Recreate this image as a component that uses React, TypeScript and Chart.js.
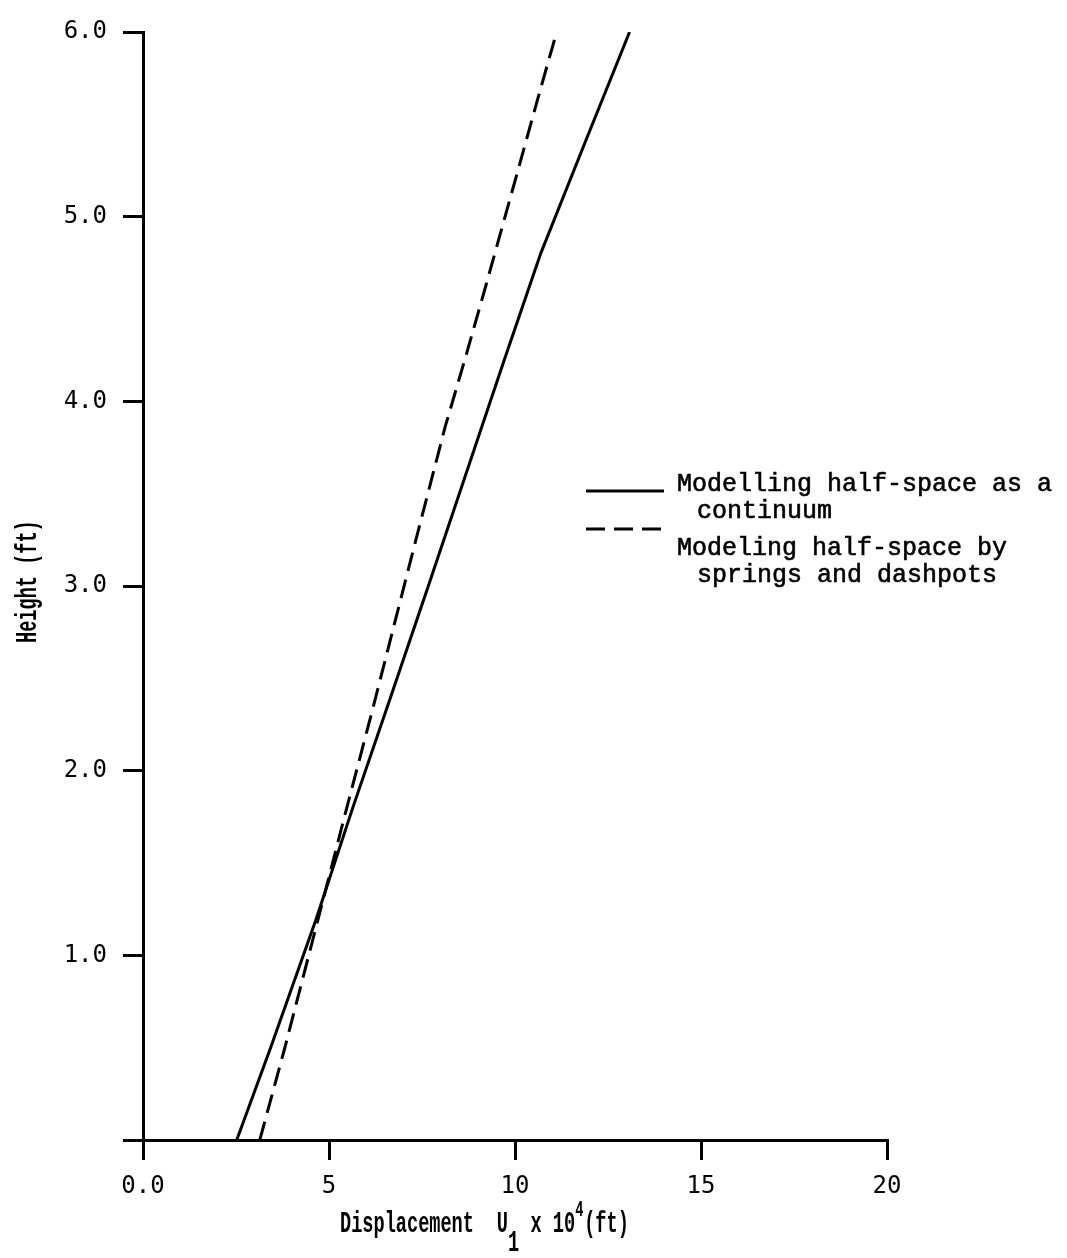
import React, { useEffect, useRef } from 'react';
import { Chart, registerables } from 'chart.js';

Chart.register(...registerables);

// Displacement U1 x 10^4 (ft) vs Height (ft)
const continuumX = [2.52, 3.43, 4.66, 5.64, 6.66, 7.67, 8.67, 9.67, 10.69, 11.88, 13.08];
const continuumY = [0, 0.5, 1.2, 1.8, 2.4, 3.0, 3.6, 4.2, 4.8, 5.4, 6.0];

const springsX = [3.14, 3.8, 4.7, 5.44, 6.17, 7.31, 8.12, 8.7, 9.18, 9.65, 10.12, 10.6, 11.12];
const springsY = [0, 0.49, 1.19, 1.77, 2.33, 3.23, 3.86, 4.26, 4.6, 4.94, 5.28, 5.63, 6.0];

const xTickValues = [0, 5, 10, 15, 20];
const xTickLabels = ['0.0', '5', '10', '15', '20'];
const yTickValues = [0, 1, 2, 3, 4, 5, 6];
const yTickLabels = ['', '1.0', '2.0', '3.0', '4.0', '5.0', '6.0'];

const legendContinuum = ['Modelling half-space as a', 'continuum'];
const legendSprings = ['Modeling half-space by', 'springs and dashpots'];

const xTitleMain = 'Displacement';
const xTitleSymbol = 'U';
const xTitleSub = '1';
const xTitleTimes = 'x 10';
const xTitleSup = '4';
const xTitleUnit = '(ft)';
const yTitle = 'Height (ft)';

const W = 1067;
const H = 1258;

const annotationsPlugin = {
  id: 'annotations',
  afterDraw(chart: any) {
    const ctx = chart.ctx as CanvasRenderingContext2D;
    ctx.save();
    ctx.fillStyle = '#000';
    ctx.strokeStyle = '#000';

    const sx = 0.62;
    const titleFont = 'bold 30px "Liberation Mono"';
    const drawScaled = (text: string, x: number, y: number, font: string) => {
      ctx.save();
      ctx.translate(x, y);
      ctx.scale(sx, 1);
      ctx.font = font;
      ctx.textAlign = 'left';
      ctx.textBaseline = 'alphabetic';
      ctx.fillText(text, 0, 0);
      ctx.restore();
    };

    // x-axis title: Displacement U1 x 10^4 (ft)
    const x0 = 340;
    const adv = 11.2;
    drawScaled(xTitleMain, x0, 1232, titleFont);
    drawScaled(xTitleSymbol, x0 + 14 * adv, 1232, titleFont);
    drawScaled(xTitleSub, x0 + 15 * adv, 1251, titleFont);
    drawScaled(xTitleTimes, x0 + 17 * adv, 1232, titleFont);
    drawScaled(xTitleSup, x0 + 21 * adv, 1216, 'bold 22px "Liberation Mono"');
    drawScaled(xTitleUnit, x0 + 21 * adv + 9, 1232, titleFont);

    // y-axis title
    ctx.save();
    ctx.translate(36, 643);
    ctx.rotate(-Math.PI / 2);
    ctx.scale(sx, 1);
    ctx.font = titleFont;
    ctx.textAlign = 'left';
    ctx.textBaseline = 'alphabetic';
    ctx.fillText(yTitle, 0, 0);
    ctx.restore();

    // legend
    ctx.lineWidth = 3;
    ctx.beginPath();
    ctx.moveTo(586, 491);
    ctx.lineTo(664, 491);
    ctx.stroke();
    ctx.setLineDash([19, 9]);
    ctx.beginPath();
    ctx.moveTo(586, 529);
    ctx.lineTo(664, 529);
    ctx.stroke();
    ctx.setLineDash([]);

    ctx.font = '25px "Liberation Mono"';
    ctx.textAlign = 'left';
    ctx.textBaseline = 'alphabetic';
    ctx.lineWidth = 0.6;
    const txt = (t: string, x: number, y: number) => {
      ctx.fillText(t, x, y);
      ctx.strokeText(t, x, y);
    };
    txt(legendContinuum[0], 677, 491);
    txt(legendContinuum[1], 697, 518);
    txt(legendSprings[0], 677, 555);
    txt(legendSprings[1], 697, 582);
    ctx.restore();
  },
};

export default function App() {
  const canvasRef = useRef<HTMLCanvasElement | null>(null);

  useEffect(() => {
    const canvas = canvasRef.current;
    if (!canvas) return;
    const chart = new Chart(canvas, {
      type: 'scatter',
      data: {
        datasets: [
          {
            label: legendContinuum.join(' '),
            data: continuumX.map((x, i) => ({ x, y: continuumY[i] })),
            showLine: true,
            borderColor: '#000',
            backgroundColor: '#000',
            borderWidth: 3,
            pointRadius: 0,
            tension: 0,
          },
          {
            label: legendSprings.join(' '),
            data: springsX.map((x, i) => ({ x, y: springsY[i] })),
            showLine: true,
            borderColor: '#000',
            backgroundColor: '#000',
            borderWidth: 3,
            borderDash: [19, 9],
            pointRadius: 0,
            tension: 0,
          },
        ],
      },
      options: {
        animation: false,
        responsive: false,
        devicePixelRatio: 1,
        layout: { padding: { left: 0, right: 180, top: 32, bottom: 0 } },
        plugins: {
          legend: { display: false },
          tooltip: { enabled: false },
          title: { display: false },
        },
        scales: {
          x: {
            type: 'linear',
            min: 0,
            max: 20,
            afterFit: (scale: any) => {
              scale.height = H - 1140;
            },
            afterBuildTicks: (scale: any) => {
              scale.ticks = xTickValues.map((v) => ({ value: v }));
            },
            ticks: {
              color: '#000',
              font: { family: '"DejaVu Sans Mono"', size: 24 },
              padding: 12,
              maxRotation: 0,
              autoSkip: false,
              callback: (value: any) => {
                const i = xTickValues.indexOf(Number(value));
                return i >= 0 ? xTickLabels[i] : '';
              },
            },
            grid: {
              drawOnChartArea: false,
              drawTicks: true,
              tickLength: 20,
              color: '#000',
              lineWidth: 3,
            },
            border: { display: true, color: '#000', width: 3 },
          },
          y: {
            type: 'linear',
            min: 0,
            max: 6,
            afterFit: (scale: any) => {
              scale.width = 143;
            },
            afterBuildTicks: (scale: any) => {
              scale.ticks = yTickValues.map((v) => ({ value: v }));
            },
            ticks: {
              color: '#000',
              font: { family: '"DejaVu Sans Mono"', size: 24 },
              padding: 16,
              autoSkip: false,
              callback: (value: any) => {
                const i = yTickValues.indexOf(Number(value));
                return i >= 0 ? yTickLabels[i] : '';
              },
            },
            grid: {
              drawOnChartArea: false,
              drawTicks: true,
              tickLength: 20,
              color: '#000',
              lineWidth: 3,
            },
            border: { display: true, color: '#000', width: 3 },
          },
        },
      },
      plugins: [annotationsPlugin],
    } as any);
    return () => chart.destroy();
  }, []);

  return (
    <div style={{ position: 'absolute', left: 0, top: 0, width: W, height: H, background: '#fff' }}>
      <canvas ref={canvasRef} width={W} height={H} style={{ display: 'block', width: W, height: H }} />
    </div>
  );
}
